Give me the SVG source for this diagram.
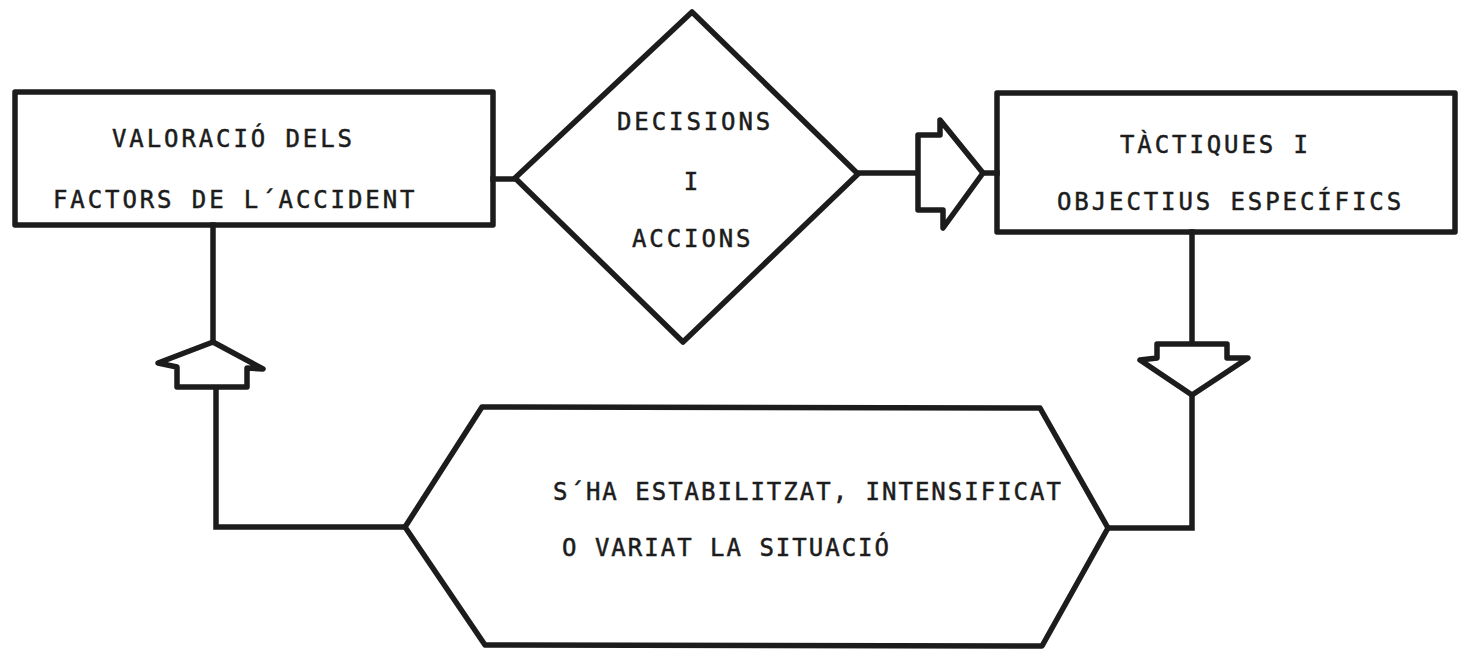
<svg xmlns="http://www.w3.org/2000/svg" width="1463" height="651" viewBox="0 0 1463 651">
<style>
.shape{fill:none;stroke:#1c1c1c;stroke-width:5.5;stroke-linejoin:round;stroke-linecap:round}
.arrow{fill:#fff;stroke:#1c1c1c;stroke-width:5.5;stroke-linejoin:round}
.conn{fill:none;stroke:#1c1c1c;stroke-width:5.5;stroke-linecap:square;stroke-linejoin:miter}
.t{font-family:"DejaVu Sans Mono","Liberation Mono",monospace;font-size:24px;fill:#1c1c1c;stroke:#1c1c1c;stroke-width:0.5;letter-spacing:2.9px}
.t2{letter-spacing:2px}
</style>
<rect width="1463" height="651" fill="#fff"/>
<g id="connectors">
<polyline class="conn" points="493,179 515,179"/>
<polyline class="conn" points="858,173 918,173"/>
<polyline class="conn" points="983,173 997,173"/>
<polyline class="conn" points="1192,232 1192,345"/>
<polyline class="conn" points="1192,395 1192,528 1108,528"/>
<polyline class="conn" points="213,225 213,342"/>
<polyline class="conn" points="216,387 216,527 405,527"/>
<polygon id="arrow-right" class="arrow" points="918,135 940,135 940,120 983,173 943,228 943,210 918,210"/>
<polygon id="arrow-down" class="arrow" points="1157,344 1227,344 1227,358 1248,358 1192,395 1140,360 1157,358"/>
<polygon id="arrow-up" class="arrow" points="213,342 263,369 247,368 247,387 177,387 177,367 158,363"/>
</g>
<g id="node-valoracio">
<rect class="shape" x="15" y="92" width="478" height="133"/>
<text class="t" x="112" y="147">VALORACIÓ DELS</text>
<text class="t" x="53" y="208">FACTORS DE L´ACCIDENT</text>
</g>
<g id="node-decisions">
<polygon class="shape" points="692,12 858,174 683,342 515,178"/>
<text class="t" x="617" y="130">DECISIONS</text>
<text class="t" x="691" y="190" text-anchor="middle" style="letter-spacing:0">I</text>
<text class="t" x="632" y="247">ACCIONS</text>
</g>
<g id="node-tactiques">
<rect class="shape" x="997" y="93" width="458" height="139"/>
<text class="t" x="1120" y="153">TÀCTIQUES I</text>
<text class="t" x="1057" y="210">OBJECTIUS ESPECÍFICS</text>
</g>
<g id="node-situacio">
<polygon class="shape" points="405,527 482,407 1040,408 1108,528 1042,646 485,645"/>
<text class="t t2" x="553" y="500">S´HA ESTABILITZAT, INTENSIFICAT</text>
<text class="t t2" x="562" y="556">O VARIAT LA SITUACIÓ</text>
</g>
</svg>
